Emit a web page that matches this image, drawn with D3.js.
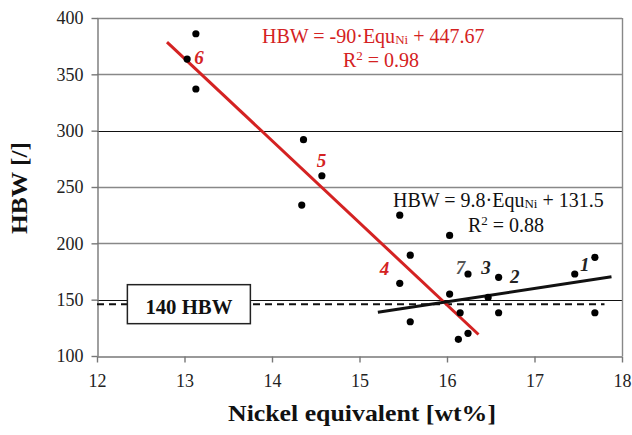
<!DOCTYPE html>
<html>
<head>
<meta charset="utf-8">
<script src="https://cdn.jsdelivr.net/npm/d3@7"></script>
<style>
  html, body { margin: 0; padding: 0; background: #fff; }
  text { font-family: "Liberation Serif", "Times New Roman", serif; }
</style>
</head>
<body>
<svg id="chart" width="632" height="435"></svg>
<script>
// ---- data ----
const xTicks = [12, 13, 14, 15, 16, 17, 18];
const yTicks = [100, 150, 200, 250, 300, 350, 400];
const pointsX = [13.13, 13.03, 13.13, 14.36, 14.34, 14.57, 15.46, 15.58, 15.46, 15.58, 16.03, 16.03, 16.15, 16.13, 16.24, 16.24, 16.47, 16.59, 16.59, 17.46, 17.69, 17.69];
const pointsY = [386, 363.5, 337, 292, 234, 260, 225, 189.5, 164.5, 130.4, 207, 155, 138.4, 114.8, 120.1, 172.8, 152, 169.8, 138.4, 172.8, 187.6, 138.4];
const redFitX = [12.80, 16.36];
const redFitY = [378.6, 119.1];
const blackFitX = [15.21, 17.88];
const blackFitY = [138.8, 170.4];
const limitX = [12, 17.8];
const limitValue = 146;
const limitLabel = "140 HBW";
const labelText = ["6", "5", "4", "7", "3", "2", "1"];
const labelX = [13.11, 14.51, 15.23, 16.10, 16.39, 16.72, 17.52];
const labelY = [359.2, 267.7, 171.9, 172.8, 172.8, 164.8, 175.4];
const labelColor = ["#d42222", "#d42222", "#d42222", "#555", "#222", "#222", "#222"];

// ---- layout ----
const svg = d3.select("#chart");
const x = d3.scaleLinear().domain([12, 18]).range([97, 622]);
const y = d3.scaleLinear().domain([100, 400]).range([356, 18]);
const red = "#d42222";

// grid lines
svg.append("g").selectAll("line").data(yTicks.filter(d => d > 100)).join("line")
  .attr("x1", x(12)).attr("x2", x(18))
  .attr("y1", d => Math.round(y(d)) + 0.5).attr("y2", d => Math.round(y(d)) + 0.5)
  .attr("stroke", d => (d === 300 || d === 150) ? "#111" : "#888")
  .attr("stroke-width", d => (d === 300 || d === 150) ? 1 : 1.4);

// right border
svg.append("line").attr("x1", x(18) + 0.5).attr("x2", x(18) + 0.5)
  .attr("y1", y(400)).attr("y2", y(100)).attr("stroke", "#888").attr("stroke-width", 1.4);

// axes
const xAxis = svg.append("g").attr("transform", `translate(0,${Math.round(y(100)) + 0.5})`)
  .call(d3.axisBottom(x).tickValues(xTicks).tickSize(6).tickSizeOuter(0).tickPadding(12).tickFormat(d3.format("d")));
const yAxis = svg.append("g").attr("transform", `translate(${Math.round(x(12)) + 0.5},0)`)
  .call(d3.axisLeft(y).tickValues(yTicks).tickSize(6).tickSizeOuter(0).tickPadding(8).tickFormat(d3.format("d")));
[xAxis, yAxis].forEach(a => {
  a.select(".domain").attr("stroke", "#777").attr("stroke-width", 1.4);
  a.selectAll(".tick line").attr("stroke", "#777").attr("stroke-width", 1.4);
  a.selectAll(".tick text").attr("font-size", 18).attr("fill", "#222");
});

// dashed limit line
svg.append("line")
  .attr("x1", x(limitX[0])).attr("x2", x(limitX[1]))
  .attr("y1", y(limitValue)).attr("y2", y(limitValue))
  .attr("stroke", "#111").attr("stroke-width", 2).attr("stroke-dasharray", "7,5");

// limit label box
const boxCx = x(13.05), boxCy = y(limitValue);
svg.append("rect").attr("x", boxCx - 61.5).attr("y", boxCy - 19.5).attr("width", 123).attr("height", 39)
  .attr("fill", "#fff").attr("stroke", "#222").attr("stroke-width", 1.5);
svg.append("text").attr("x", boxCx).attr("y", boxCy + 9.5).attr("text-anchor", "middle")
  .attr("font-size", 20).attr("font-weight", "bold").attr("fill", "#111")
  .attr("textLength", 87).attr("lengthAdjust", "spacingAndGlyphs").text(limitLabel);

// fit lines
const line = d3.line().x(d => x(d[0])).y(d => y(d[1]));
svg.append("path").datum(d3.zip(redFitX, redFitY)).attr("d", line)
  .attr("stroke", red).attr("stroke-width", 3).attr("fill", "none");
svg.append("path").datum(d3.zip(blackFitX, blackFitY)).attr("d", line)
  .attr("stroke", "#111").attr("stroke-width", 3).attr("fill", "none");

// points
svg.append("g").selectAll("circle").data(d3.zip(pointsX, pointsY)).join("circle")
  .attr("cx", d => x(d[0])).attr("cy", d => y(d[1])).attr("r", 3.6).attr("fill", "#000");

// point labels
svg.append("g").selectAll("text").data(d3.range(labelText.length)).join("text")
  .attr("x", i => x(labelX[i])).attr("y", i => y(labelY[i]))
  .attr("font-size", 19).attr("font-style", "italic").attr("font-weight", "bold")
  .attr("fill", i => labelColor[i]).text(i => labelText[i]);

// equations
function equation(px, py, slope, icpt, color) {
  const t = svg.append("text").attr("x", px).attr("y", py).attr("font-size", 20).attr("fill", color);
  t.append("tspan").text(`HBW = ${slope}·Equ`);
  t.append("tspan").attr("font-size", 13).attr("dy", 1).text("Ni");
  t.append("tspan").attr("dy", -1).text(` + ${icpt}`);
}
function r2(px, py, val, color) {
  const t = svg.append("text").attr("x", px).attr("y", py).attr("font-size", 20).attr("fill", color);
  t.append("tspan").text("R");
  t.append("tspan").attr("font-size", 13).attr("dy", -7).text("2");
  t.append("tspan").attr("dy", 7).text(` = ${val}`);
}
equation(262, 43, "-90", "447.67", red);
r2(343, 67, "0.98", red);
equation(393, 207, "9.8", "131.5", "#111");
r2(468, 232, "0.88", "#111");

// axis titles
svg.append("text").attr("x", 362).attr("y", 421).attr("text-anchor", "middle")
  .attr("font-size", 23).attr("font-weight", "bold").attr("fill", "#111")
  .attr("textLength", 268).attr("lengthAdjust", "spacingAndGlyphs").text("Nickel equivalent [wt%]");
svg.append("text").attr("transform", "translate(27,188) rotate(-90)").attr("text-anchor", "middle")
  .attr("font-size", 23).attr("font-weight", "bold").attr("fill", "#111")
  .attr("textLength", 92).attr("lengthAdjust", "spacingAndGlyphs").text("HBW [/]");
</script>
</body>
</html>
